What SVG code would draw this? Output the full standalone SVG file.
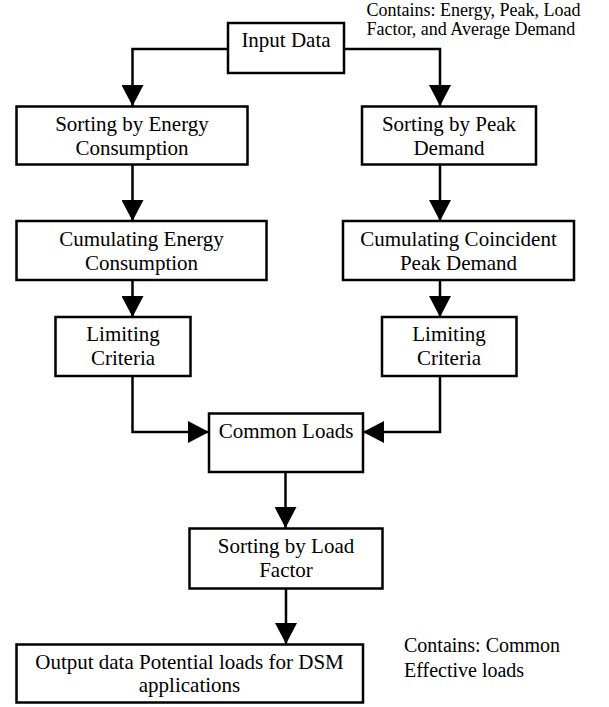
<svg xmlns="http://www.w3.org/2000/svg" width="609" height="707" viewBox="0 0 609 707">
<style>
.box{fill:#fff;stroke:#000;stroke-width:2.5}
.t{font-family:"Liberation Serif","Times New Roman",serif;font-size:21px;fill:#000;text-anchor:middle}
.note{font-family:"Liberation Serif","Times New Roman",serif;fill:#000}
.ln{fill:none;stroke:#000;stroke-width:2.5}
</style>
<defs>
<marker id="ah" viewBox="0 0 21 22" refX="21" refY="11" markerWidth="21" markerHeight="22" markerUnits="userSpaceOnUse" orient="auto">
<path d="M0,0 L21,11 L0,22 Z" fill="#000"/>
</marker>
</defs>
<g id="connectors">
<path class="ln" d="M228,49 H132.5 V106" marker-end="url(#ah)"/>
<path class="ln" d="M344,49 H440 V106" marker-end="url(#ah)"/>
<path class="ln" d="M132.5,164 V221" marker-end="url(#ah)"/>
<path class="ln" d="M440,164 V221" marker-end="url(#ah)"/>
<path class="ln" d="M132.5,280 V317" marker-end="url(#ah)"/>
<path class="ln" d="M440,280 V317" marker-end="url(#ah)"/>
<path class="ln" d="M132.5,376 V432 H209" marker-end="url(#ah)"/>
<path class="ln" d="M440,376 V432 H363" marker-end="url(#ah)"/>
<path class="ln" d="M285.5,472 V528" marker-end="url(#ah)"/>
<path class="ln" d="M286,588 V644" marker-end="url(#ah)"/>
</g>
<g id="input">
<rect class="box" x="228" y="23" width="116" height="50"/>
<text class="t" x="286" y="47">Input Data</text>
</g>
<g id="sortEnergy">
<rect class="box" x="16.5" y="106.5" width="231" height="58"/>
<text class="t" x="132" y="131">Sorting by Energy</text>
<text class="t" x="132" y="155">Consumption</text>
</g>
<g id="sortPeak">
<rect class="box" x="362" y="106.5" width="174" height="58"/>
<text class="t" x="449" y="131">Sorting by Peak</text>
<text class="t" x="449" y="155">Demand</text>
</g>
<g id="cumEnergy">
<rect class="box" x="16.5" y="221" width="250" height="59"/>
<text class="t" x="141.5" y="245.5">Cumulating Energy</text>
<text class="t" x="141.5" y="269.5">Consumption</text>
</g>
<g id="cumPeak">
<rect class="box" x="343" y="221" width="231" height="59"/>
<text class="t" x="458.5" y="245.5">Cumulating Coincident</text>
<text class="t" x="458.5" y="269.5">Peak Demand</text>
</g>
<g id="limitLeft">
<rect class="box" x="55.5" y="317" width="135" height="59"/>
<text class="t" x="123" y="341">Limiting</text>
<text class="t" x="123" y="365">Criteria</text>
</g>
<g id="limitRight">
<rect class="box" x="382" y="317" width="134.5" height="59"/>
<text class="t" x="449" y="341">Limiting</text>
<text class="t" x="449" y="365">Criteria</text>
</g>
<g id="common">
<rect class="box" x="209" y="413.5" width="154" height="58.5"/>
<text class="t" x="286" y="438">Common Loads</text>
</g>
<g id="sortLoad">
<rect class="box" x="189.5" y="528.5" width="193" height="60"/>
<text class="t" x="286" y="552.5">Sorting by Load</text>
<text class="t" x="286" y="576.5">Factor</text>
</g>
<g id="output">
<rect class="box" x="16.5" y="644.5" width="346.5" height="58"/>
<text class="t" x="189.5" y="668.5">Output data Potential loads for DSM</text>
<text class="t" x="189.5" y="692">applications</text>
</g>
<g id="noteTop">
<text class="note" x="366.5" y="16" font-size="18">Contains: Energy, Peak, Load</text>
<text class="note" x="366.5" y="35" font-size="18">Factor, and Average Demand</text>
</g>
<g id="noteBottom">
<text class="note" x="404" y="652" font-size="20">Contains: Common</text>
<text class="note" x="404" y="677" font-size="20">Effective loads</text>
</g>
</svg>
